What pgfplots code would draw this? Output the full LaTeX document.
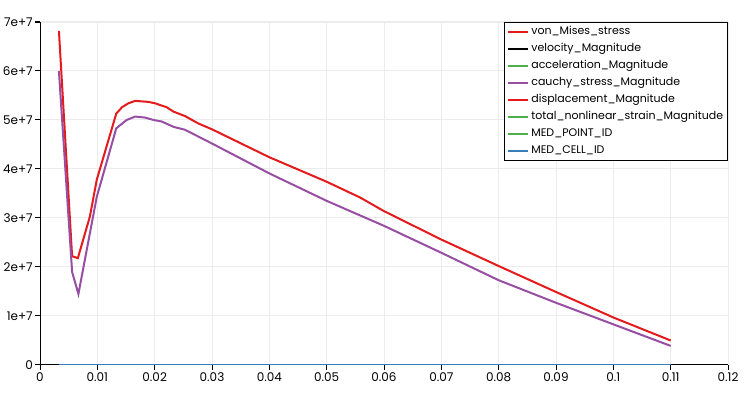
\documentclass[border=0pt]{standalone}
\usepackage{fontspec}
\setmainfont{Poppins}
\usepackage{pgfplots}
\pgfplotsset{compat=1.18}
\definecolor{pvred}{RGB}{228,26,28}
\definecolor{pvpurple}{RGB}{152,78,163}
\definecolor{pvgreen}{RGB}{77,175,74}
\definecolor{pvblue}{RGB}{55,126,184}
\definecolor{gridgray}{RGB}{236,236,236}
\begin{document}
\begin{tikzpicture}[x=1pt,y=1pt]
\path[use as bounding box, fill=white] (0,0) rectangle (750,393);
\begin{axis}[
  at={(40pt,28pt)}, anchor=south west,
  scale only axis, width=688pt, height=343pt,
  xmin=0, xmax=0.12, ymin=0, ymax=7e7,
  scaled y ticks=false, scaled x ticks=false,
  axis x line*=bottom, axis y line*=left,
  axis line style={black, line width=1pt},
  tick align=outside, major tick length=5pt,
  tick style={black, line width=1pt},
  grid=major, grid style={gridgray, line width=1pt},
  xtick={0,0.01,0.02,0.03,0.04,0.05,0.06,0.07,0.08,0.09,0.1,0.11,0.12},
  xticklabels={0,0.01,0.02,0.03,0.04,0.05,0.06,0.07,0.08,0.09,0.1,0.11,0.12},
  ytick={0,1e7,2e7,3e7,4e7,5e7,6e7,7e7},
  yticklabels={0,1e+7,2e+7,3e+7,4e+7,5e+7,6e+7,7e+7},
  ticklabel style={font=\fontsize{12}{14}\selectfont, inner sep=2pt},
  legend style={at={(1,1)}, anchor=north east, draw=black, line width=0.8pt,
    font=\fontsize{11}{13}\selectfont, inner xsep=2pt, inner ysep=1pt,
    nodes={text height=9pt, text depth=3pt, inner sep=2.5pt}, row sep=0pt},
  legend cell align=left,
  legend image code/.code={\draw[#1, line width=2pt] (0pt,0pt) -- (20pt,0pt);},
  every axis plot/.append style={line width=2pt},
]
\addplot[pvred] coordinates {(0.0033,6.82e7) (0.0056,2.22e7) (0.0066,2.18e7) (0.0087,3.03e7) (0.0099,3.78e7) (0.0133,5.13e7) (0.0143,5.26e7) (0.0154,5.34e7) (0.0166,5.39e7) (0.0189,5.37e7) (0.0201,5.34e7) (0.0221,5.26e7) (0.0233,5.17e7) (0.0253,5.08e7) (0.0276,4.93e7) (0.03,4.81e7) (0.04,4.24e7) (0.05,3.74e7) (0.0558,3.42e7) (0.06,3.14e7) (0.07,2.56e7) (0.08,2.02e7) (0.09,1.49e7) (0.1,0.97e7) (0.11,0.5e7)};
\addlegendentry{von\_Mises\_stress}
\addplot[black] coordinates {(0.0033,0) (0.11,0)};
\addlegendentry{velocity\_Magnitude}
\addplot[pvgreen] coordinates {(0.0033,0) (0.11,0)};
\addlegendentry{acceleration\_Magnitude}
\addplot[pvpurple] coordinates {(0.0033,6.0e7) (0.0056,1.9e7) (0.0067,1.45e7) (0.0099,3.43e7) (0.0133,4.83e7) (0.0151,5.0e7) (0.0166,5.07e7) (0.0183,5.05e7) (0.0198,5.0e7) (0.0212,4.97e7) (0.0233,4.86e7) (0.0253,4.8e7) (0.03,4.52e7) (0.04,3.91e7) (0.05,3.35e7) (0.06,2.84e7) (0.07,2.29e7) (0.08,1.73e7) (0.09,1.27e7) (0.1,0.83e7) (0.11,0.39e7)};
\addlegendentry{cauchy\_stress\_Magnitude}
\addplot[pvred] coordinates {(0.0033,0) (0.11,0)};
\addlegendentry{displacement\_Magnitude}
\addplot[pvgreen] coordinates {(0.0033,0) (0.11,0)};
\addlegendentry{total\_nonlinear\_strain\_Magnitude}
\addplot[pvgreen] coordinates {(0.0033,0) (0.11,0)};
\addlegendentry{MED\_POINT\_ID}
\addplot[pvblue] coordinates {(0.0033,0) (0.11,0)};
\addlegendentry{MED\_CELL\_ID}
\end{axis}
\end{tikzpicture}
\end{document}
